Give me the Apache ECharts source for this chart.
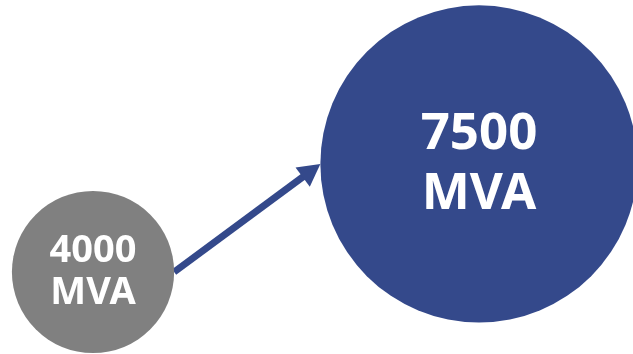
<!DOCTYPE html>
<html>
<head>
<meta charset="utf-8">
<style>
  html, body { margin: 0; padding: 0; background: #ffffff; }
  #chart { width: 633px; height: 354px; }
</style>
<script src="https://cdn.jsdelivr.net/npm/echarts@6/dist/echarts.min.js"></script>
</head>
<body>
<div id="chart"></div>
<script>
// Capacity before and after the upgrade
const stages = [0, 1];
const capacity = [4000, 7500];
const unit = 'MVA';
const bubbleColors = ['#808080', '#34498b'];

// bubble diameter grows linearly with capacity
function bubbleSize(v) { return v * 0.0443 - 15; }

const chart = echarts.init(document.getElementById('chart'));

const bubbles = stages.map((s, i) => ({
  value: [s, capacity[i]],
  symbolSize: bubbleSize(capacity[i]),
  itemStyle: { color: bubbleColors[i], opacity: 1 },
  label: i === 0
    ? { fontSize: 38, lineHeight: 42 }
    : { fontSize: 51, lineHeight: 60 }
}));

const arrowData = [[stages[0], capacity[0], stages[1], capacity[1]]];

chart.setOption({
  animation: false,
  grid: { left: 0, right: 0, top: 0, bottom: 0 },
  xAxis: { type: 'value', min: -0.241, max: 1.399, show: false },
  yAxis: { type: 'value', min: 1342, max: 12814, show: false },
  series: [
    {
      type: 'custom',
      z: 1,
      data: arrowData,
      renderItem: function (params, api) {
        const a = api.coord([api.value(0), api.value(1)]);
        const b = api.coord([api.value(2), api.value(3)]);
        const r0 = bubbleSize(api.value(1)) / 2;
        const r1 = bubbleSize(api.value(3)) / 2;
        const sx = a[0] + r0, sy = a[1];
        const ex = b[0] - r1, ey = b[1];
        const dx = ex - sx, dy = ey - sy;
        const len = Math.sqrt(dx * dx + dy * dy);
        const ux = dx / len, uy = dy / len;
        const px = -uy, py = ux;
        const headLen = 22, headHalf = 12;
        const bx = ex - ux * headLen, by = ey - uy * headLen;
        return {
          type: 'group',
          children: [
            {
              type: 'line',
              shape: { x1: sx, y1: sy, x2: bx + ux * 2, y2: by + uy * 2 },
              style: { stroke: bubbleColors[1], lineWidth: 7 }
            },
            {
              type: 'polygon',
              shape: {
                points: [
                  [ex, ey],
                  [bx + px * headHalf, by + py * headHalf],
                  [bx - px * headHalf, by - py * headHalf]
                ]
              },
              style: { fill: bubbleColors[1] }
            }
          ]
        };
      }
    },
    {
      type: 'scatter',
      z: 2,
      symbol: 'circle',
      data: bubbles,
      itemStyle: { opacity: 1 },
      label: {
        show: true,
        position: 'inside',
        color: '#ffffff',
        fontFamily: 'Noto Sans',
        fontWeight: 'bold',
        formatter: function (p) { return p.value[1] + '\n' + unit; }
      },
      emphasis: { disabled: true }
    }
  ]
});
</script>
</body>
</html>
